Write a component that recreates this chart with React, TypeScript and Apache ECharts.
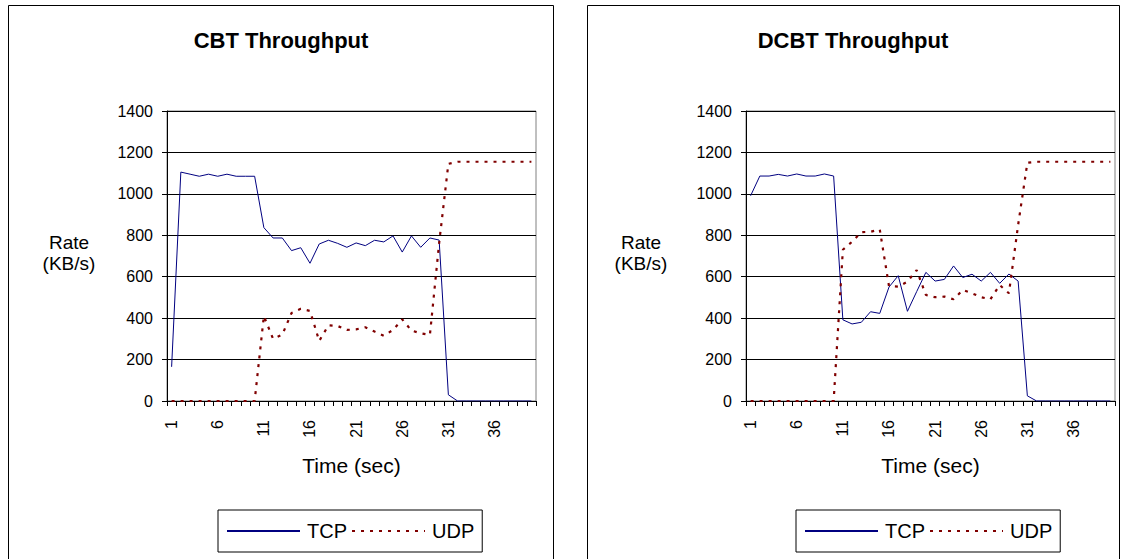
import React, { useEffect, useRef } from "react";
import * as echarts from "echarts";

const categories: string[] = Array.from({ length: 40 }, (_, i) => String(i + 1));

const cbtTcp: number[] = [
  165, 1105, 1095, 1085, 1095, 1085, 1095, 1085, 1085, 1085,
  837, 787, 787, 726, 740, 665, 758, 776, 761, 742,
  763, 750, 776, 768, 797, 719, 797, 742, 787, 777,
  30, 0, 0, 0, 0, 0, 0, 0, 0, 0,
];
const cbtUdp: number[] = [
  0, 0, 0, 0, 0, 0, 0, 0, 0, 0,
  410, 300, 320, 425, 445, 435, 290, 365, 362, 343,
  346, 356, 335, 315, 343, 394, 340, 327, 319, 762,
  1145, 1155, 1155, 1155, 1155, 1155, 1155, 1155, 1155, 1155,
];
const dcbtTcp: number[] = [
  991, 1086, 1086, 1094, 1086, 1096, 1086, 1086, 1096, 1086,
  392, 372, 380, 431, 423, 550, 605, 433, 528, 621,
  579, 587, 652, 596, 612, 579, 621, 568, 613, 579,
  25, 0, 0, 0, 0, 0, 0, 0, 0, 0,
];
const dcbtUdp: number[] = [
  0, 0, 0, 0, 0, 0, 0, 0, 0, 0,
  730, 769, 815, 817, 828, 555, 552, 576, 632, 512,
  501, 504, 491, 536, 520, 501, 491, 560, 520, 850,
  1150, 1155, 1155, 1155, 1155, 1155, 1155, 1155, 1155, 1155,
];
const seriesNames: string[] = ["TCP", "UDP"];
const titles: string[] = ["CBT Throughput", "DCBT Throughput"];

const FONT = '"Liberation Sans", Arial, sans-serif';

export default function App() {
  const ref = useRef<HTMLDivElement>(null);
  useEffect(() => {
    if (!ref.current) return;
    const chart = echarts.init(ref.current, undefined, { renderer: "svg" });
    const grids = [
      { left: 167, top: 111, width: 369, height: 290 },
      { left: 746, top: 111, width: 369, height: 290 },
    ];
    const xAxis = grids.map((_, gi) => ({
      type: "category",
      gridIndex: gi,
      data: categories,
      boundaryGap: true,
      axisLine: { show: true, lineStyle: { color: "#000", width: 1 } },
      axisTick: { show: true, interval: 0, length: 5, lineStyle: { color: "#000" } },
      axisLabel: {
        interval: 4,
        rotate: 90,
        margin: 19,
        color: "#000",
        fontSize: 16,
        fontFamily: FONT,
      },
      splitLine: { show: false },
    }));
    const yAxis = grids.map((_, gi) => ({
      type: "value",
      gridIndex: gi,
      min: 0,
      max: 1400,
      interval: 200,
      axisLine: { show: true, lineStyle: { color: "#000", width: 1 } },
      axisTick: { show: true, length: 5, lineStyle: { color: "#000" } },
      axisLabel: {
        margin: 14,
        color: "#000",
        fontSize: 16,
        fontFamily: FONT,
        formatter: (v: number) => String(v),
      },
      splitLine: { show: true, lineStyle: { color: "#000", width: 1 } },
    }));
    const mk = (name: string, data: number[], gi: number) => {
      const isTcp = name === "TCP";
      return {
        name,
        type: "line",
        xAxisIndex: gi,
        yAxisIndex: gi,
        data,
        symbol: "none",
        showSymbol: false,
        lineStyle: isTcp
          ? { color: "#000080", width: 1, type: "solid" }
          : { color: "#800000", width: 2.2, type: [3, 6] },
        itemStyle: { color: isTcp ? "#000080" : "#800000" },
      };
    };
    const legendBase = {
      data: seriesNames,
      orient: "horizontal",
      itemWidth: 73,
      itemHeight: 14,
      itemGap: 4,
      padding: [11, 8, 11, 8],
      borderColor: "#000",
      borderWidth: 1,
      selectedMode: false,
      itemStyle: { opacity: 0 },
      textStyle: { fontSize: 20, fontFamily: FONT, color: "#000", padding: [0, 0, 0, 2] },
    };
    chart.setOption({
      animation: false,
      backgroundColor: "#fff",
      grid: grids.map((g) => ({
        ...g,
        show: true,
        borderColor: "#808080",
        borderWidth: 1,
        backgroundColor: "transparent",
      })),
      xAxis,
      yAxis,
      legend: [
        { ...legendBase, left: 218, top: 510 },
        { ...legendBase, left: 796, top: 510 },
      ],
      series: [
        mk("TCP", cbtTcp, 0),
        mk("UDP", cbtUdp, 0),
        mk("TCP", dcbtTcp, 1),
        mk("UDP", dcbtUdp, 1),
      ],
      graphic: [
        {
          type: "rect",
          shape: { x: 8.5, y: 5.5, width: 545, height: 620 },
          style: { fill: "none", stroke: "#000", lineWidth: 1 },
          silent: true,
        },
        {
          type: "rect",
          shape: { x: 587.5, y: 5.5, width: 532, height: 620 },
          style: { fill: "none", stroke: "#000", lineWidth: 1 },
          silent: true,
        },
        {
          type: "text",
          x: 281,
          y: 40,
          style: {
            text: titles[0],
            font: `bold 22px ${FONT}`,
            fill: "#000",
            align: "center",
            verticalAlign: "middle",
          },
        },
        {
          type: "text",
          x: 853,
          y: 40,
          style: {
            text: titles[1],
            font: `bold 22px ${FONT}`,
            fill: "#000",
            align: "center",
            verticalAlign: "middle",
          },
        },
        {
          type: "text",
          x: 69,
          y: 253,
          style: {
            text: "Rate\n(KB/s)",
            font: `19px ${FONT}`,
            lineHeight: 21,
            fill: "#000",
            align: "center",
            verticalAlign: "middle",
          },
        },
        {
          type: "text",
          x: 641,
          y: 253,
          style: {
            text: "Rate\n(KB/s)",
            font: `19px ${FONT}`,
            lineHeight: 21,
            fill: "#000",
            align: "center",
            verticalAlign: "middle",
          },
        },
        {
          type: "text",
          x: 351.5,
          y: 465,
          style: {
            text: "Time (sec)",
            font: `21px ${FONT}`,
            fill: "#000",
            align: "center",
            verticalAlign: "middle",
          },
        },
        {
          type: "text",
          x: 930.5,
          y: 465,
          style: {
            text: "Time (sec)",
            font: `21px ${FONT}`,
            fill: "#000",
            align: "center",
            verticalAlign: "middle",
          },
        },
      ],
    });
    return () => chart.dispose();
  }, []);
  return (
    <div
      ref={ref}
      style={{ position: "fixed", left: 0, top: 0, width: 1125, height: 559, background: "#fff" }}
    />
  );
}
